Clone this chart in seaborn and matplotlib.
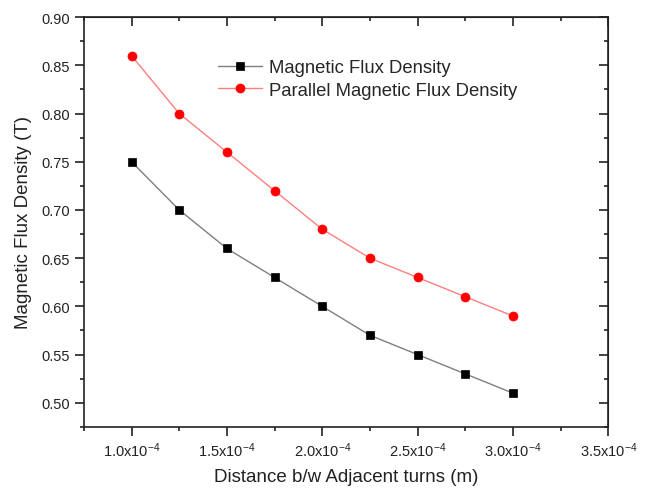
import numpy as np
import pandas as pd
import matplotlib
matplotlib.use("Agg")
import matplotlib.pyplot as plt
import seaborn as sns
from matplotlib.ticker import MultipleLocator, FuncFormatter

# dati
distance = [1.0e-4, 1.25e-4, 1.5e-4, 1.75e-4, 2.0e-4, 2.25e-4, 2.5e-4, 2.75e-4, 3.0e-4]
flux = [0.75, 0.70, 0.66, 0.63, 0.60, 0.57, 0.55, 0.53, 0.51]
parallel_flux = [0.86, 0.80, 0.76, 0.72, 0.68, 0.65, 0.63, 0.61, 0.59]

sns.set_style("ticks")
plt.rcParams['font.family'] = ['Liberation Sans', 'DejaVu Sans']
plt.rcParams['mathtext.fontset'] = 'custom'
plt.rcParams['mathtext.rm'] = 'Liberation Sans'
plt.rcParams['mathtext.it'] = 'Liberation Sans'

fig = plt.figure(figsize=(6.45, 4.89), dpi=100)
ax = fig.add_axes([0.130, 0.125, 0.813, 0.838])

df = pd.DataFrame({'distance': distance, 'flux': flux, 'parallel': parallel_flux})

sns.lineplot(data=df, x='distance', y='flux', ax=ax, color='#7f7f7f', linewidth=1,
             marker='s', markersize=5.5, markerfacecolor='black', markeredgecolor='black',
             markeredgewidth=0.5, label='Magnetic Flux Density')
sns.lineplot(data=df, x='distance', y='parallel', ax=ax, color='#ff7f7f', linewidth=1,
             marker='o', markersize=6.5, markerfacecolor='red', markeredgecolor='red',
             markeredgewidth=0.5, label='Parallel Magnetic Flux Density')

ax.set_xlim(0.75e-4, 3.5e-4)
ax.set_ylim(0.475, 0.90)
ax.xaxis.set_major_locator(MultipleLocator(0.5e-4))
ax.xaxis.set_minor_locator(MultipleLocator(0.25e-4))
ax.yaxis.set_major_locator(MultipleLocator(0.05))
ax.yaxis.set_minor_locator(MultipleLocator(0.025))
ax.xaxis.set_major_formatter(FuncFormatter(lambda v, p: f"{v * 1e4:.1f}x10$^{{-4}}$"))
ax.yaxis.set_major_formatter(FuncFormatter(lambda v, p: f"{v:.2f}"))

for side in ['left', 'bottom', 'top', 'right']:
    ax.spines[side].set_visible(True)
    ax.spines[side].set_linewidth(1.2)
    ax.spines[side].set_color('#222222')

ax.tick_params(which='both', direction='out', top=False, right=False, color='#222222', width=1.2)
ax.tick_params(which='major', length=6.5, labelsize=10.5, colors='#222222')
ax.tick_params(which='minor', length=3.2)

# tacche interne sugli assi superiore e destro
ax2 = ax.secondary_xaxis('top')
ax2.xaxis.set_major_locator(MultipleLocator(0.5e-4))
ax2.xaxis.set_minor_locator(MultipleLocator(0.25e-4))
ax2.tick_params(which='both', direction='in', labeltop=False, width=1.2, color='#222222')
ax2.tick_params(which='major', length=6.5)
ax2.tick_params(which='minor', length=3.2)
ax3 = ax.secondary_yaxis('right')
ax3.yaxis.set_major_locator(MultipleLocator(0.05))
ax3.yaxis.set_minor_locator(MultipleLocator(0.025))
ax3.tick_params(which='both', direction='in', labelright=False, width=1.2, color='#222222')
ax3.tick_params(which='major', length=6.5)
ax3.tick_params(which='minor', length=3.2)

ax.set_xlabel('Distance b/w Adjacent turns (m)', fontsize=13.5, color='#222222', labelpad=6)
ax.set_ylabel('Magnetic Flux Density (T)', fontsize=13.5, color='#222222', labelpad=7)

ax.legend(loc='upper left', bbox_to_anchor=(0.238, 0.92), frameon=False, fontsize=13.3,
          handlelength=2.4, handletextpad=0.35, borderpad=0, labelspacing=0.3)

plt.savefig('out.png', dpi=100)
plt.close()
